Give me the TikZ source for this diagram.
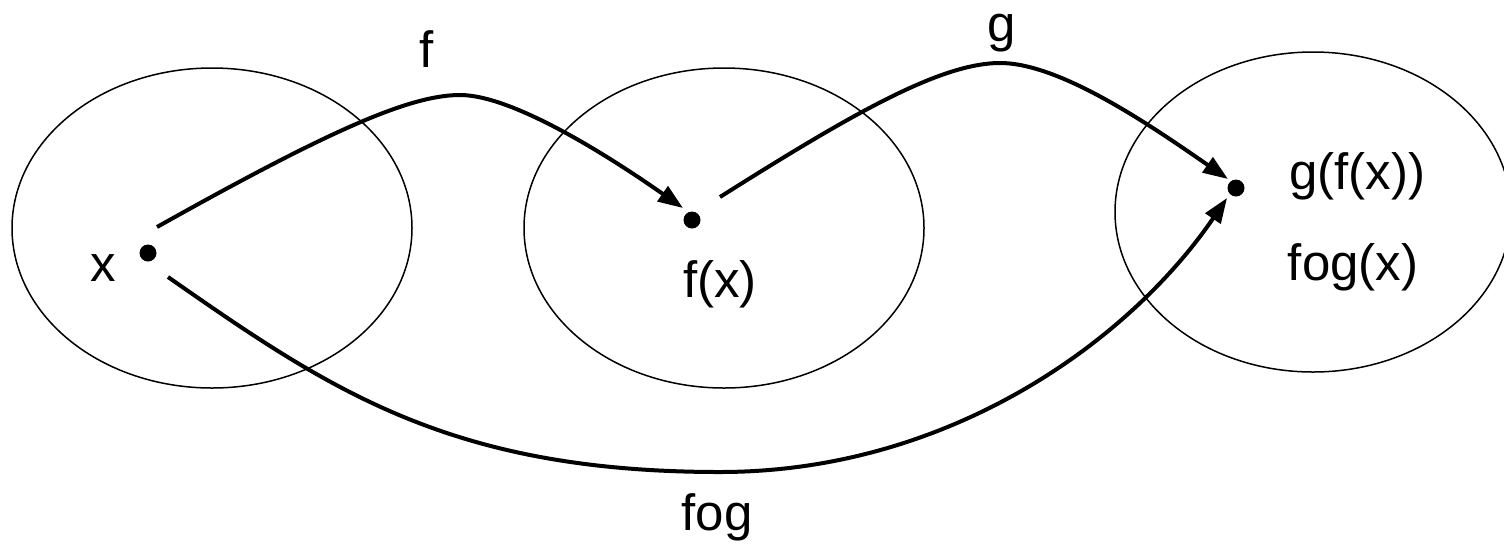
\documentclass[tikz,border=0pt]{standalone}
\usepackage{fontspec}
\setmainfont{Liberation Sans}
\usetikzlibrary{arrows.meta}
\begin{document}
\begin{tikzpicture}[x=0.5pt,y=-0.5pt,
  setellipse/.style={draw, line width=0.75pt},
  dot/.style={circle, fill=black, inner sep=0pt, minimum size=8.5pt},
  maparrow/.style={line width=2pt, -{Triangle[length=12.5pt,width=9pt]}},
  lbl/.style={font=\fontsize{25.5}{30}\selectfont, inner sep=0pt, anchor=base},
]
\useasboundingbox (0,0) rectangle (1504,543);
% sets
\draw[setellipse] (212,228) ellipse [x radius=100pt, y radius=80pt];
\draw[setellipse] (724,228) ellipse [x radius=100pt, y radius=80pt];
\draw[setellipse] (1313,212) ellipse [x radius=99pt, y radius=80pt];
% points
\node[dot] (xd) at (148,253) {};
\node[dot] (fd) at (692,220) {};
\node[dot] (gd) at (1236,188) {};
% labels
\node[lbl] (xl) at (103,281) {x};
\node[lbl] (fxl) at (720,297) {f(x)};
\node[lbl] (gfl) at (1357,189) {g(f(x))};
\node[lbl] (fogxl) at (1353,280) {fog(x)};
\node[lbl] (fl) at (427,67) {f};
\node[lbl] (gl) at (1002,41) {g};
\node[lbl] (fogl) at (717,530) {fog};
% connector ends
\coordinate (fs) at (157,227);
\coordinate (fe) at (683,208);
\coordinate (gs) at (720,197);
\coordinate (ge) at (1228,179);
\coordinate (hs) at (168,277);
\coordinate (he) at (1227,198);
% maps
\draw[maparrow] (fs) .. controls (330,130) and (410,95) .. (460,95)
  .. controls (510,95) and (600,150) .. (fe);
\draw[maparrow] (gs) .. controls (850,115) and (940,63) .. (1000,63)
  .. controls (1060,63) and (1150,125) .. (ge);
\draw[maparrow] (hs) .. controls (330,390) and (450,472) .. (720,472)
  .. controls (950,472) and (1130,340) .. (he);
\end{tikzpicture}
\end{document}
